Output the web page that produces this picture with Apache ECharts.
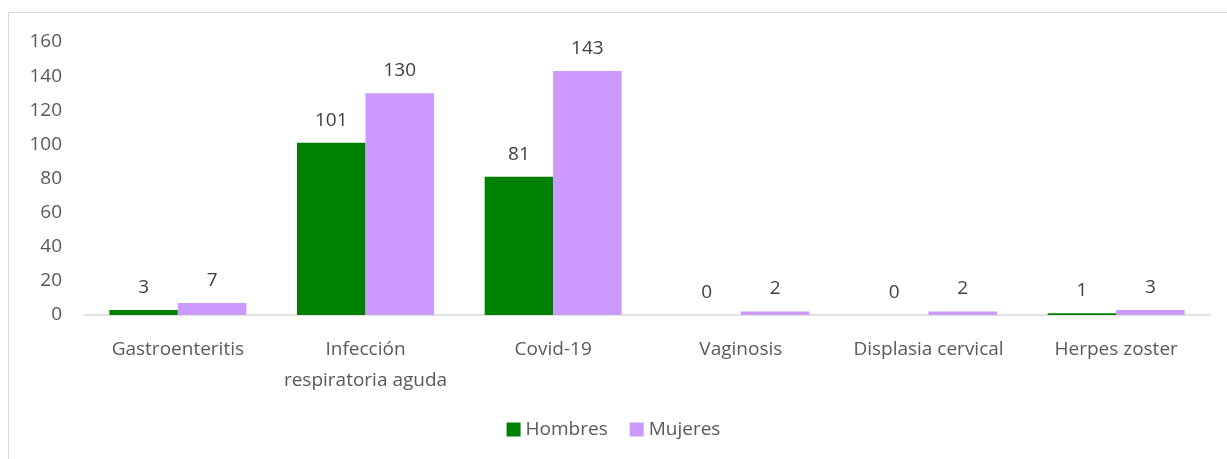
<!DOCTYPE html>
<html>
<head>
<meta charset="utf-8">
<script src="https://cdn.jsdelivr.net/npm/echarts@6/dist/echarts.min.js"></script>
<style>
    html, body { margin: 0; padding: 0; background: #fff; }
    #frame { position: absolute; left: 8px; top: 12px; width: 1240px; height: 470px; border: 1px solid #d9d9d9; }
    #main { position: absolute; left: 0; top: 0; width: 1227px; height: 459px; }
</style>
</head>
<body>
<div id="frame"></div>
<div id="main"></div>
<script>
// datos
var categories = ['Gastroenteritis', 'Infección\nrespiratoria aguda', 'Covid-19', 'Vaginosis', 'Displasia cervical', 'Herpes zoster'];
var hombres = [3, 101, 81, 0, 0, 1];
var mujeres = [7, 130, 143, 2, 2, 3];
var yTicks = {min: 0, max: 160, interval: 20};

var fontFam = '"Open Sans", "Liberation Sans", sans-serif';

function drawChart() {
    var chart = echarts.init(document.getElementById('main'));
    var labelStyle = {
        show: true,
        position: 'top',
        distance: 13,
        color: '#404040',
        fontSize: 19,
        fontFamily: fontFam
    };
    chart.setOption({
        animation: false,
        grid: {
            left: 84,
            right: 17,
            top: 42,
            bottom: 144
        },
        legend: {
            bottom: 15,
            left: 'center',
            itemWidth: 14,
            itemHeight: 14,
            itemGap: 22,
            icon: 'rect',
            textStyle: {
                color: '#595959',
                fontSize: 19,
                fontFamily: fontFam
            },
            data: ['Hombres', 'Mujeres']
        },
        xAxis: {
            type: 'category',
            data: categories,
            axisLine: {lineStyle: {color: '#d9d9d9', width: 1.5}},
            axisTick: {show: false},
            axisLabel: {
                color: '#595959',
                fontSize: 19,
                fontFamily: fontFam,
                margin: 19,
                lineHeight: 31,
                interval: 0
            }
        },
        yAxis: {
            type: 'value',
            min: yTicks.min,
            max: yTicks.max,
            interval: yTicks.interval,
            splitLine: {show: false},
            axisLine: {show: false},
            axisTick: {show: false},
            axisLabel: {
                color: '#595959',
                fontSize: 19,
                fontFamily: fontFam,
                margin: 22
            }
        },
        series: [
            {
                name: 'Hombres',
                type: 'bar',
                data: hombres,
                barGap: '0%',
                barCategoryGap: '27%',
                itemStyle: {color: '#008000'},
                label: labelStyle
            },
            {
                name: 'Mujeres',
                type: 'bar',
                data: mujeres,
                itemStyle: {color: '#cc99ff'},
                label: labelStyle
            }
        ]
    });
}

drawChart();
</script>
</body>
</html>
